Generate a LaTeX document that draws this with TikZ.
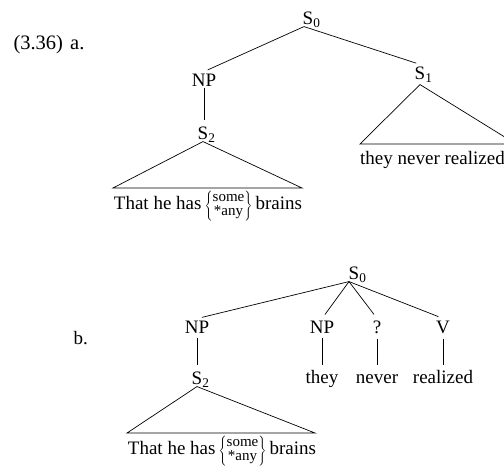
\documentclass[tikz,border=0pt]{standalone}
\usepackage{fontspec}
\setmainfont{Liberation Serif}
\newcommand{\Snode}[1]{S\rlap{\smash{\textsubscript{#1}}}}
\newcommand{\someany}{\,$\left\{\vcenter{\hbox{\rule{0pt}{33pt}}}\vcenter{\hbox{\fontsize{15}{14}\selectfont\begin{tabular}{@{}c@{}}some\\{}*any\end{tabular}}}\right\}$\,}
\tikzset{
	cat/.style={inner sep=2pt},
	word/.style={anchor=base, inner sep=2pt, text height=13pt},
	branch/.style={line width=0.7pt},
	roof/.style={line width=0.7pt, line join=miter}
}
\begin{document}
\begin{tikzpicture}[x=1pt,y=-1pt,font=\fontsize{19}{22}\selectfont]
	%
	\useasboundingbox (0,0) rectangle (504,470);
	\def\catrow{327}
	\def\wordrow{384}
	% (3.36) a.
		\node [anchor=west, font=\fontsize{20.5}{24}\selectfont] (exa) at (10,45) {(3.36)\hspace{0.35em}a.};
		\node [cat] (a0) at (308,18) {\Snode{0}};
		\node [cat] (anp) at (204,80) {NP};
		\node [cat] (as1) at (420,73) {\Snode{1}};
		\node [cat] (as2) at (203,133) {\Snode{2}};
		\coordinate (a0r) at ([xshift=-4pt]a0.south);
		\draw [branch, shorten >=4pt] (a0r) -- (anp.north);
		\draw [branch, shorten >=4pt] (a0r) -- (as1.north);
		\draw [branch, shorten >=4pt] (anp.south) -- (anp.south |- as2.north);
	% roofs
		\coordinate (as2-l) at (113,188);
		\coordinate (as2-r) at (302,188);
		\draw [roof] (as2.south) -- (as2-l) -- (as2-r) -- cycle;
		\node [anchor=base] (as2-t) at (208,210) {That he has\someany brains};
		\coordinate (as1-top) at ([yshift=-3pt]as1.south);
		\coordinate (as1-l) at (360,144);
		\coordinate (as1-r) at (516,144);
		\draw [roof] (as1-top) -- (as1-l) -- (as1-r) -- cycle;
		\node [anchor=base west, inner sep=0pt] (as1-t) at (360,165) {they never realized};
	% b.
		\node [anchor=west] (exb) at (70,338) {b.};
		\node [cat] (b0) at (354,273) {\Snode{0}};
		\node [cat] (bnp) at (197,\catrow) {NP};
		\node [cat] (bs2) at (197,378) {\Snode{2}};
		\coordinate (b0r) at ([xshift=-5pt]b0.south);
		\draw [branch, shorten >=5pt] (b0r) -- (bnp.north);
		\draw [branch, shorten <=3pt, shorten >=4pt] (bnp.south) -- (bs2.north);
		\foreach \name/\x/\label/\word in {bnp2/322/NP/they, bq/377/?/never, bv/443/V/realized}{
			\node [cat] (\name) at (\x,\catrow) {\label};
			\node [word] (\name-w) at (\x,\wordrow) {\word};
			\draw [branch, shorten >=5pt] (b0r) -- (\name.north);
			\draw [branch, shorten <=3pt, shorten >=4pt] (\name.south) -- (\name-w.north);
		}
		\coordinate (bs2-l) at (127,433);
		\coordinate (bs2-r) at (315,433);
		\draw [roof] (bs2.south) -- (bs2-l) -- (bs2-r) -- cycle;
		\node [anchor=base] (bs2-t) at (222,455) {That he has\someany brains};
\end{tikzpicture}
\end{document}
